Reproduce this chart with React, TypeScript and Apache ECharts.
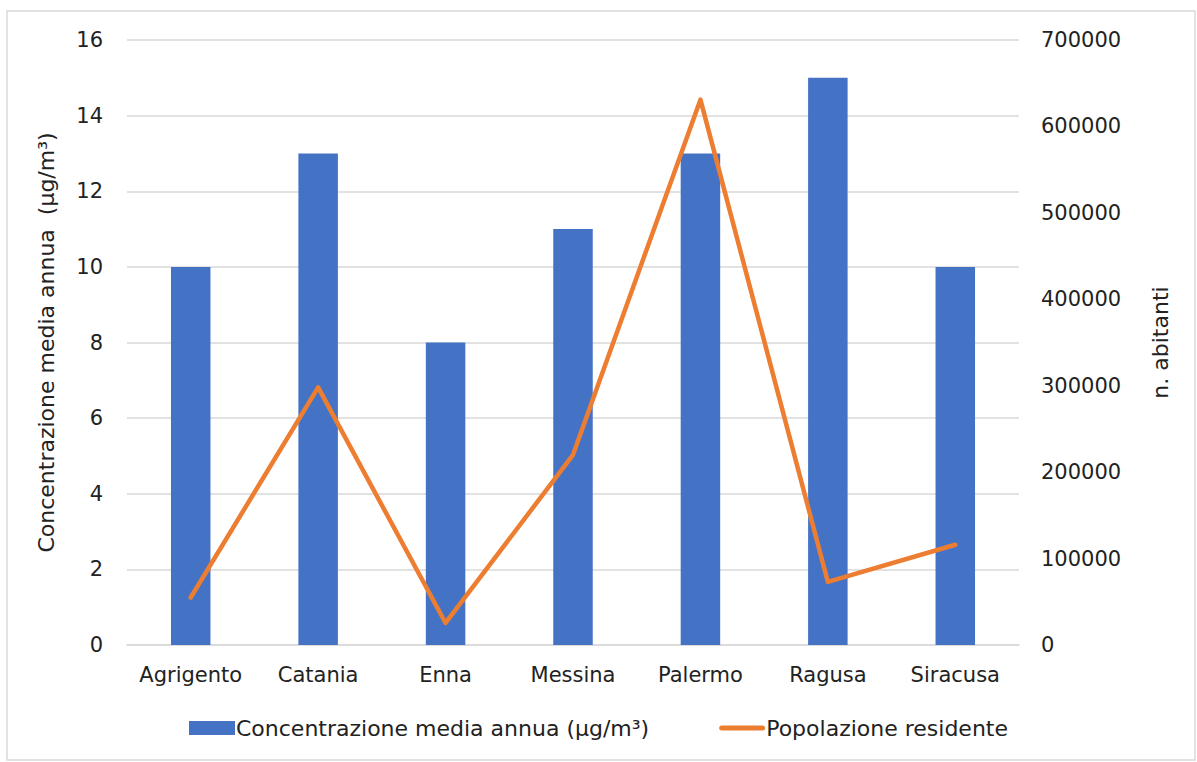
import React, { useEffect, useRef } from "react";
import * as echarts from "echarts";

const categories = ["Agrigento", "Catania", "Enna", "Messina", "Palermo", "Ragusa", "Siracusa"];
const concentration = [10, 13, 8, 11, 13, 15, 10];
const population = [55000, 298000, 25500, 220000, 631000, 73000, 116000];
const barName = "Concentrazione media annua (µg/m³)";
const lineName = "Popolazione residente";
const leftTitle = "Concentrazione media annua  (µg/m³)";
const rightTitle = "n. abitanti";

const FONT = "DejaVu Sans";

export default function App() {
  const ref = useRef<HTMLDivElement>(null);
  useEffect(() => {
    if (!ref.current) return;
    const chart = echarts.init(ref.current, null, { renderer: "svg" });
    chart.setOption({
      animation: false,
      textStyle: { fontFamily: FONT, color: "#222" },
      graphic: [
        {
          type: "rect",
          shape: { x: 7, y: 11, width: 1188, height: 749 },
          style: { fill: "none", stroke: "#d9d9d9", lineWidth: 1.5 },
          silent: true,
        },
      ],
      grid: { left: 127, right: 178, top: 40, bottom: 117 },
      legend: {
        bottom: 18,
        left: "center",
        itemGap: 70,
        itemWidth: 46,
        itemHeight: 14,
        textStyle: { fontFamily: FONT, fontSize: 22, color: "#222", padding: [0, 0, 0, -4] },
        data: [
          { name: barName, icon: "rect" },
          { name: lineName, icon: "path://M2.5,0 L43.5,0 A2.5,2.5 0 0 1 43.5,5 L2.5,5 A2.5,2.5 0 0 1 2.5,0 Z" },
        ],
      },
      xAxis: {
        type: "category",
        data: categories,
        axisLine: { lineStyle: { color: "#d9d9d9", width: 1.5 } },
        axisTick: { show: false },
        axisLabel: { fontFamily: FONT, fontSize: 21, color: "#222", margin: 19, interval: 0 },
      },
      yAxis: [
        {
          type: "value",
          min: 0,
          max: 16,
          interval: 2,
          name: leftTitle,
          nameLocation: "middle",
          nameGap: 70,
          nameTextStyle: { fontFamily: FONT, fontSize: 22, color: "#222" },
          axisLine: { show: false },
          axisTick: { show: false },
          splitLine: { lineStyle: { color: "#d9d9d9", width: 1.5 } },
          axisLabel: { fontFamily: FONT, fontSize: 21, color: "#222", margin: 24 },
        },
        {
          type: "value",
          min: 0,
          max: 700000,
          interval: 100000,
          name: rightTitle,
          nameLocation: "middle",
          nameGap: 130,
          nameRotate: 90,
          nameTextStyle: { fontFamily: FONT, fontSize: 22, color: "#222" },
          axisLine: { show: false },
          axisTick: { show: false },
          splitLine: { show: false },
          axisLabel: {
            fontFamily: FONT,
            fontSize: 21,
            color: "#222",
            margin: 22,
            formatter: (v: number) => String(v),
          },
        },
      ],
      series: [
        {
          name: barName,
          type: "bar",
          data: concentration,
          barWidth: "31%",
          itemStyle: { color: "#4472C4" },
          yAxisIndex: 0,
        },
        {
          name: lineName,
          type: "line",
          data: population,
          yAxisIndex: 1,
          symbol: "none",
          lineStyle: { color: "#ED7D31", width: 4.5, cap: "round", join: "round" },
          itemStyle: { color: "#ED7D31" },
        },
      ],
    });
    return () => chart.dispose();
  }, []);
  return (
    <div
      ref={ref}
      style={{ position: "fixed", left: 0, top: 0, width: 1197, height: 762, background: "#fff" }}
    />
  );
}
